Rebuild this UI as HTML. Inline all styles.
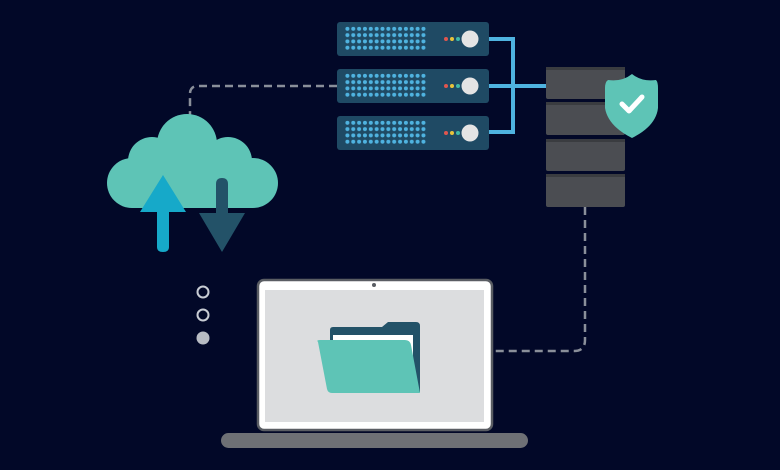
<!DOCTYPE html>
<html><head><meta charset="utf-8"><style>html,body{margin:0;padding:0;background:#020828;}svg{display:block}</style></head>
<body>
<svg width="780" height="470" viewBox="0 0 780 470" xmlns="http://www.w3.org/2000/svg">
<defs>
<pattern id="dots" x="0" y="0" width="5.85" height="6.3" patternUnits="userSpaceOnUse">
<circle cx="2.4" cy="2.8" r="2" fill="#4fb3e0"/>
</pattern>
<g id="grid"><rect x="0" y="0" width="82" height="25.2" fill="url(#dots)"/></g>
</defs>
<rect width="780" height="470" fill="#020828"/>
<!-- dashed connectors -->
<path d="M337 86 H198 Q190 86 190 94 V116" fill="none" stroke="#8a8f9a" stroke-width="2.5" stroke-dasharray="8 5"/>
<path d="M585 207 V340 Q585 351 574 351 H493" fill="none" stroke="#8a8f9a" stroke-width="2.5" stroke-dasharray="8 5"/>
<!-- blue connectors -->
<path d="M489 39 H513 V132 H489 M489 86 H546" fill="none" stroke="#4fb3e0" stroke-width="4"/>
<!-- servers -->
<g>
<rect x="337" y="22" width="152" height="34" rx="3" fill="#1f4a64"/>
<use href="#grid" transform="translate(345,26)"/>
<circle cx="446" cy="39" r="2" fill="#e0564f"/><circle cx="452" cy="39" r="2" fill="#e8c33a"/><circle cx="458" cy="39" r="2" fill="#3fb9a8"/>
<circle cx="470" cy="39" r="8.5" fill="#e4e4e4"/>
</g>
<g>
<rect x="337" y="69" width="152" height="34" rx="3" fill="#1f4a64"/>
<use href="#grid" transform="translate(345,73)"/>
<circle cx="446" cy="86" r="2" fill="#e0564f"/><circle cx="452" cy="86" r="2" fill="#e8c33a"/><circle cx="458" cy="86" r="2" fill="#3fb9a8"/>
<circle cx="470" cy="86" r="8.5" fill="#e4e4e4"/>
</g>
<g>
<rect x="337" y="116" width="152" height="34" rx="3" fill="#1f4a64"/>
<use href="#grid" transform="translate(345,120)"/>
<circle cx="446" cy="133" r="2" fill="#e0564f"/><circle cx="452" cy="133" r="2" fill="#e8c33a"/><circle cx="458" cy="133" r="2" fill="#3fb9a8"/>
<circle cx="470" cy="133" r="8.5" fill="#e4e4e4"/>
</g>
<!-- storage stack -->
<g fill="#4b4d52">
<rect x="546" y="67" width="79" height="32" rx="2"/>
<rect x="546" y="102" width="79" height="33" rx="2"/>
<rect x="546" y="139" width="79" height="32" rx="2"/>
<rect x="546" y="174" width="79" height="33" rx="2"/>
</g>
<g fill="#3a3c40">
<rect x="546" y="67" width="79" height="3"/><rect x="546" y="102" width="79" height="3"/><rect x="546" y="139" width="79" height="3"/><rect x="546" y="174" width="79" height="3"/>
</g>
<!-- shield -->
<path d="M632 74 Q642 82 656 80 Q658 82 658 88 V108 Q656 126 632 138 Q608 126 605 108 V88 Q605 82 608 80 Q622 82 632 74 Z" fill="#5ec4b6"/>
<path d="M622 104 L629 111 L642 97" fill="none" stroke="#fff" stroke-width="5" stroke-linecap="round" stroke-linejoin="round"/>
<!-- cloud -->
<g fill="#5ec4b6">
<circle cx="187" cy="144" r="30"/>
<circle cx="152" cy="161" r="24"/>
<circle cx="228" cy="161" r="24"/>
<circle cx="132" cy="183" r="25"/>
<circle cx="253" cy="183" r="25"/>
<rect x="132" y="160" width="121" height="48"/>
</g>
<!-- arrows -->
<path d="M163 175 L186 212 H169 V247 Q169 252 163 252 Q157 252 157 247 V212 H140 Z" fill="#16a9c9"/>
<path d="M222 178 Q228 178 228 184 V213 H245 L222 252 L199 213 H216 V184 Q216 178 222 178 Z" fill="#235268"/>
<!-- dots -->
<circle cx="203" cy="292" r="5.5" fill="none" stroke="#c8ccd4" stroke-width="2"/>
<circle cx="203" cy="315" r="5.5" fill="none" stroke="#c8ccd4" stroke-width="2"/>
<circle cx="203" cy="338" r="6.5" fill="#b8bcc4"/>
<!-- laptop -->
<rect x="258" y="280" width="234" height="150" rx="6" fill="#fff" stroke="#5a5d63" stroke-width="2.5"/>
<rect x="265" y="290" width="219" height="132" fill="#dcdddf"/>
<circle cx="374" cy="285" r="2" fill="#5a5d63"/>
<rect x="221" y="433" width="307" height="15" rx="7.5" fill="#6e7075"/>
<!-- folder -->
<path d="M333 327 H382 L388 322 H416 Q420 322 420 326 V392 H330 V330 Q330 327 333 327 Z" fill="#235268"/>
<rect x="333" y="335" width="80" height="50" fill="#fff"/>
<path d="M318 342 Q316 340 320 340 H405 Q410 340 411 345 L420 393 H332 Q328 393 327 389 Z" fill="#5ec4b6"/>
</svg>
</body></html>
